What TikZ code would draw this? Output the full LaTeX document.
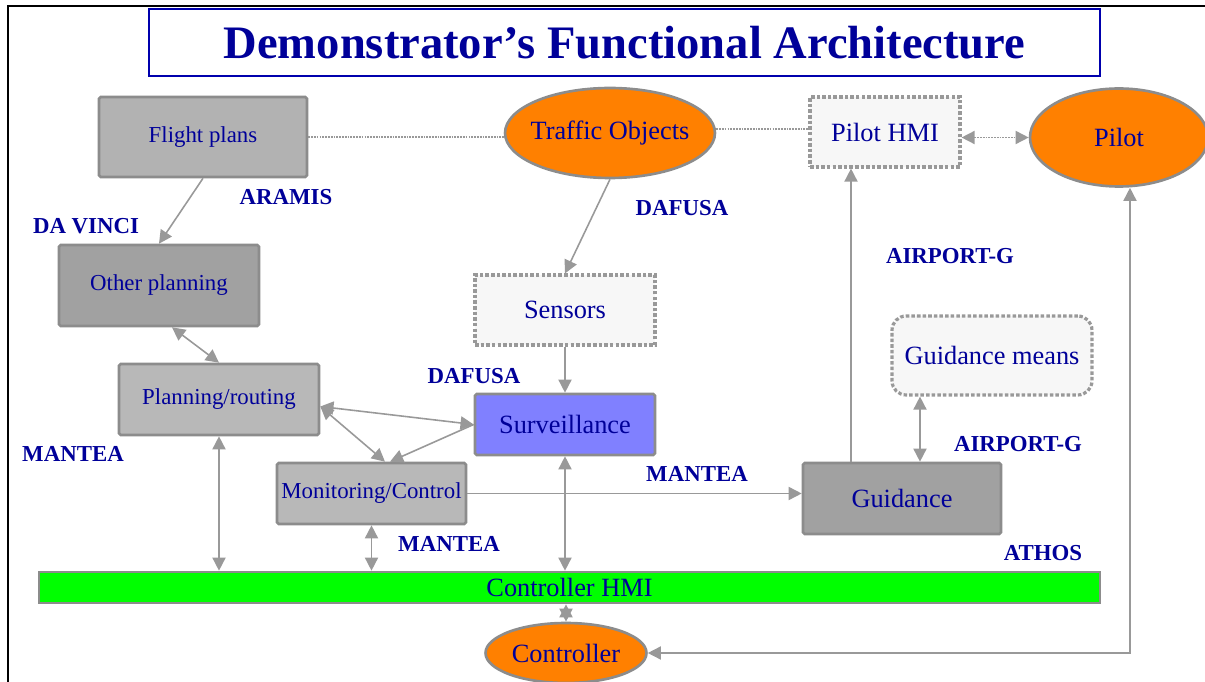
\documentclass[tikz,border=0pt]{standalone}
\usepackage{fontspec}
\setmainfont{Liberation Serif}
\usetikzlibrary{shapes.geometric, arrows.meta, positioning}
\definecolor{archblue}{HTML}{000099}
\definecolor{archline}{HTML}{999999}
\definecolor{archedge}{HTML}{8C8C8C}
\definecolor{archorange}{HTML}{FF8000}
\definecolor{archpale}{HTML}{F7F7F7}
\definecolor{archsurv}{HTML}{8080FF}

\begin{document}
\begin{tikzpicture}[x=0.02cm, y=-0.02cm,
    >={Triangle[length=7.5pt,width=7.5pt]},
    bigtext/.style={font=\fontsize{15}{17}\selectfont},
    smalltext/.style={font=\fontsize{13}{15}\selectfont},
    box/.style={draw=archedge, line width=1.5pt, rounded corners=1pt, inner sep=0pt, text=archblue},
    dotbox/.style={draw=archline, fill=archpale, line width=1.8pt, dash pattern=on 2pt off 1.2pt, inner sep=0pt, text=archblue, bigtext},
    actor/.style={ellipse, draw=archedge, fill=archorange, line width=1.5pt, inner sep=0pt, text=archblue, bigtext},
    proj/.style={text=archblue, font=\fontsize{13}{15}\selectfont\bfseries},
    link/.style={draw=archline, line width=0.9pt},
    dotlink/.style={link, dash pattern=on 1pt off 0.6pt}]
  \useasboundingbox (0,0) rectangle (1205,682);
  \draw[black, line width=1.2pt] (8,682) -- (8,6) -- (1205,6);

  % title
  \node[draw=archblue!80!blue, line width=0.9pt, minimum width=19.02cm, minimum height=1.34cm,
        text=archblue, font=\fontsize{26.5}{30}\selectfont\bfseries] (title) at (624.5,42.5)
        {Demonstrator’s Functional Architecture};

  % actors and boxes
  \node[box, smalltext, fill=black!30, minimum width=4.16cm, minimum height=1.6cm] (flight) at (203,137) {Flight plans};
  \node[actor, inner xsep=-3.5pt, minimum width=4.2cm, minimum height=1.8cm] (traffic) at (610,133) {Traffic Objects};
  \node[dotbox, minimum width=3cm, minimum height=1.4cm] (pilothmi) at (885,132) {Pilot HMI};
  \node[actor, minimum width=3.56cm, minimum height=1.96cm] (pilot) at (1119,137.5) {Pilot};
  \node[box, smalltext, fill=black!37, minimum width=4cm, minimum height=1.62cm] (other) at (159,285.5) {Other planning};
  \node[dotbox, minimum width=3.6cm, minimum height=1.4cm] (sensors) at (565,310) {Sensors};
  \node[dotbox, rounded corners=8pt, minimum width=4cm, minimum height=1.58cm] (gmeans) at (992,355.5) {Guidance means};
  \node[box, smalltext, fill=black!28, minimum width=4cm, minimum height=1.42cm] (plan) at (219,399.5) {Planning/routing};
  \node[box, bigtext, fill=archsurv, minimum width=3.6cm, minimum height=1.22cm] (surv) at (565,424.5) {Surveillance};
  \node[box, smalltext, fill=black!28, minimum width=3.78cm, minimum height=1.22cm] (monitor) at (371.5,493.5) {Monitoring/Control};
  \node[box, bigtext, fill=black!37, minimum width=3.96cm, minimum height=1.42cm] (guidance) at (902,498.5) {Guidance};
  \node[box, bigtext, fill=green, rounded corners=0pt, minimum width=21.22cm, minimum height=0.62cm] (chmi) at (569.5,587.5) {Controller HMI};
  \node[actor, minimum width=3.22cm, minimum height=1.2cm] (controller) at (566,653) {Controller};

  % project names
  \node[proj] (aramis) at (286,197) {ARAMIS};
  \node[proj] (davinci) at (86,226) {DA VINCI};
  \node[proj] (dafusatop) at (682,208) {DAFUSA};
  \node[proj] (airporttop) at (950,256) {AIRPORT-G};
  \node[proj] (dafusamid) at (474,376) {DAFUSA};
  \node[proj] (manteaplan) at (73,454) {MANTEA};
  \node[proj] (manteaguid) at (697,474) {MANTEA};
  \node[proj] (airportmid) at (1018,444) {AIRPORT-G};
  \node[proj] (manteamon) at (449,544) {MANTEA};
  \node[proj] (athos) at (1043,553) {ATHOS};

  % helper points
  \coordinate (hmiin) at ([xshift=-0.68cm]pilothmi.south);
  \coordinate (gmin) at ([xshift=0.36cm]guidance.north);
  \coordinate (pilotin) at ([xshift=0.22cm]pilot.south);

  % connectors
  \draw[dotlink] (flight.east) -- (flight.east -| traffic.west);
  \draw[dotlink] ([yshift=0.08cm]traffic.east) -- ([yshift=0.08cm]traffic.east -| pilothmi.west);
  \draw[dotlink, <->] (pilothmi.east |- pilot.west) -- (pilot.west);
  \draw[link, ->] (flight.south) -- (other.north);
  \draw[link, ->] (traffic.south) -- (sensors.north);
  \draw[link, ->] (sensors.south) -- (surv.north);
  \draw[link, <->] ([xshift=0.26cm]other.south) -- (plan.north);
  \draw[link, <->] ([yshift=-0.14cm]plan.east) -- (surv.west);
  \draw[link, <->] ([yshift=-0.14cm]plan.east) -- ([xshift=0.27cm]monitor.north);
  \draw[link, ->] (surv.west) -- ([xshift=0.37cm]monitor.north);
  \draw[link, <->] (plan.south) -- (plan.south |- chmi.north);
  \draw[link, <->] (monitor.south) -- (monitor.south |- chmi.north);
  \draw[link, <->] (surv.south) -- (surv.south |- chmi.north);
  \draw[link, <->] (controller.north |- chmi.south) -- (controller.north);
  \draw[link, ->] (monitor.east) -- (monitor.east -| guidance.west);
  \draw[link, ->] (hmiin |- guidance.north) -- (hmiin);
  \draw[link, <->] (gmin) -- (gmin |- gmeans.south);
  \draw[link, <->] (controller.east) -| (pilotin);
\end{tikzpicture}
\end{document}
